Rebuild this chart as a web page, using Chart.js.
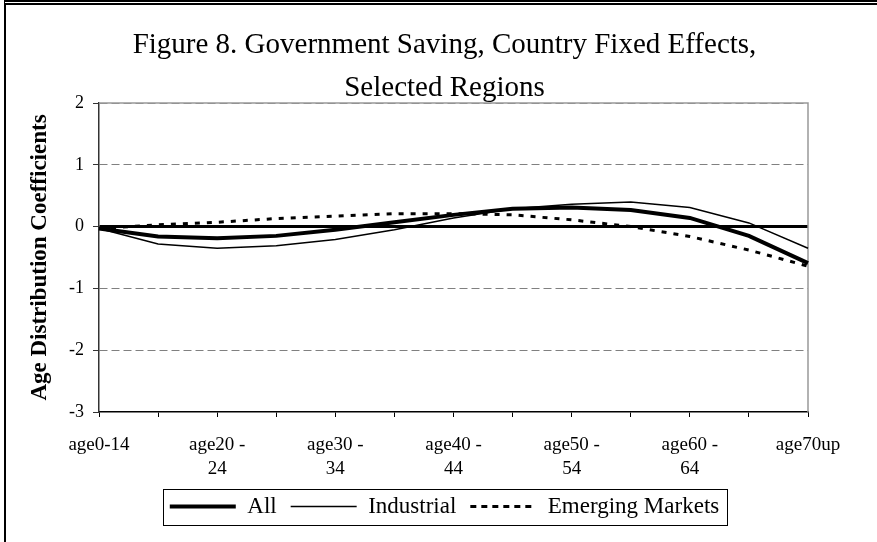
<!DOCTYPE html>
<html>
<head>
<meta charset="UTF-8">
<title>Figure 8</title>
<script src="https://cdn.jsdelivr.net/npm/chart.js"></script>
<style>
    body { margin: 0; background: #fff; overflow: hidden; }
    #wrap { position: relative; width: 877px; height: 542px; }
    #frame { position: absolute; left: 4px; top: 0; width: 900px; height: 600px;
             border-top: 5px double #000; border-left: 2px solid #000; }
    #chart { position: absolute; left: 0; top: 0; }
</style>
</head>
<body>
<div id="wrap">
    <div id="frame"></div>
    <canvas id="chart" width="877" height="542"></canvas>
</div>
<script>
// categories (age groups) and tick labels shown under the axis
const categories = ['age0-14', 'age15-19', 'age20-24', 'age25-29', 'age30-34', 'age35-39', 'age40-44',
    'age45-49', 'age50-54', 'age55-59', 'age60-64', 'age65-69', 'age70up'];
const xTickLabels = ['age0-14', '', ['age20 -', '24'], '', ['age30 -', '34'], '', ['age40 -', '44'],
    '', ['age50 -', '54'], '', ['age60 -', '64'], '', 'age70up'];

// coefficients
const allValues = [-0.03, -0.16, -0.19, -0.15, -0.05, 0.07, 0.19, 0.29, 0.31, 0.27, 0.14, -0.15, -0.59];
const industrialValues = [-0.03, -0.28, -0.35, -0.31, -0.21, -0.05, 0.14, 0.29, 0.36, 0.40, 0.31, 0.06, -0.35];
const emergingValues = [-0.03, 0.03, 0.07, 0.13, 0.17, 0.21, 0.21, 0.19, 0.11, 0.0, -0.16, -0.38, -0.64];

const yMin = -3, yMax = 2;
const serif = "'Liberation Serif', 'Times New Roman', serif";

// grey border on top and right of the plot area
const plotFrame = {
    id: 'plotFrame',
    beforeDatasetsDraw(chart) {
        const {ctx, chartArea: a} = chart;
        ctx.save();
        ctx.strokeStyle = '#999';
        ctx.lineWidth = 1.5;
        ctx.beginPath();
        ctx.moveTo(a.left, a.top);
        ctx.lineTo(a.right, a.top);
        ctx.lineTo(a.right, a.bottom);
        ctx.stroke();
        ctx.restore();
    }
};

// box around the legend items
const legendBox = {
    id: 'legendBox',
    afterDraw(chart) {
        const boxes = chart.legend.legendHitBoxes;
        if (!boxes || !boxes.length) return;
        const left = Math.min(...boxes.map(b => b.left)) - 7;
        const right = Math.max(...boxes.map(b => b.left + b.width)) + 8;
        const top = boxes[0].top - 6.5;
        const ctx = chart.ctx;
        ctx.save();
        ctx.strokeStyle = '#000';
        ctx.lineWidth = 1;
        ctx.strokeRect(Math.round(left) + 0.5, Math.round(top) + 0.5, Math.round(right - left), 36);
        ctx.restore();
    }
};

const ctx = document.getElementById('chart').getContext('2d');
new Chart(ctx, {
    type: 'line',
    data: {
        labels: categories,
        datasets: [
            { label: 'All', data: allValues, borderColor: '#000', borderWidth: 4 },
            { label: 'Industrial', data: industrialValues, borderColor: '#000', borderWidth: 1.5 },
            { label: 'Emerging Markets', data: emergingValues, borderColor: '#000', borderWidth: 3, borderDash: [5, 7] }
        ]
    },
    options: {
        responsive: false,
        animation: false,
        devicePixelRatio: 1,
        layout: { padding: { left: 12, right: 0, top: 0, bottom: 14 } },
        elements: {
            point: { radius: 0, hoverRadius: 0 },
            line: { tension: 0, fill: false, borderCapStyle: 'butt' }
        },
        scales: {
            x: {
                offset: false,
                afterFit: s => { s.height = 69; },
                grid: { drawOnChartArea: false, drawTicks: true, tickLength: 5, color: '#000' },
                border: { color: '#000', width: 1.5 },
                ticks: {
                    autoSkip: false, maxRotation: 0, padding: 16, color: '#000',
                    font: { family: serif, size: 19, lineHeight: 1.263 },
                    callback: (v, i) => xTickLabels[i]
                }
            },
            y: {
                min: yMin, max: yMax,
                afterFit: s => { s.width = 87; },
                grid: {
                    tickLength: 6,
                    tickColor: '#333',
                    tickWidth: 1,
                    color: c => c.tick.value === 0 ? '#000' : (c.tick.value === yMin ? 'rgba(0,0,0,0)' : '#808080'),
                    lineWidth: c => c.tick.value === 0 ? 3 : 1
                },
                border: { color: '#333', width: 1.5, dash: c => (c.tick && c.tick.value === 0) ? [] : [8, 4] },
                ticks: { stepSize: 1, padding: 9, color: '#000', font: { family: serif, size: 18 } },
                title: {
                    display: true, text: 'Age Distribution Coefficients', color: '#000',
                    padding: { top: 14, bottom: 0 },
                    font: { family: serif, size: 23, weight: 'bold', lineHeight: 1.2 }
                }
            },
            yRight: {
                position: 'right', display: true, min: yMin, max: yMax,
                afterFit: s => { s.width = 69; },
                grid: { display: false }, border: { display: false }, ticks: { display: false }
            }
        },
        plugins: {
            title: {
                display: true,
                text: ['Figure 8. Government Saving, Country Fixed Effects,', 'Selected Regions'],
                color: '#000',
                padding: { top: 23.5, bottom: -6.5 },
                font: { family: serif, size: 29, weight: 'normal', lineHeight: 1.483 }
            },
            legend: {
                position: 'bottom',
                labels: {
                    usePointStyle: true, pointStyle: 'line', pointStyleWidth: 66,
                    padding: 14, color: '#000',
                    font: { family: serif, size: 23 },
                    // take line width and dash from the dataset, not from its points
                    generateLabels: chart => Chart.defaults.plugins.legend.labels.generateLabels(chart).map(item => {
                        const ds = chart.data.datasets[item.datasetIndex];
                        item.lineWidth = ds.borderWidth;
                        item.lineDash = ds.borderDash ? [6, 5] : [];
                        item.strokeStyle = ds.borderColor;
                        return item;
                    })
                }
            },
            tooltip: { enabled: false }
        }
    },
    plugins: [plotFrame, legendBox]
});
</script>
</body>
</html>
